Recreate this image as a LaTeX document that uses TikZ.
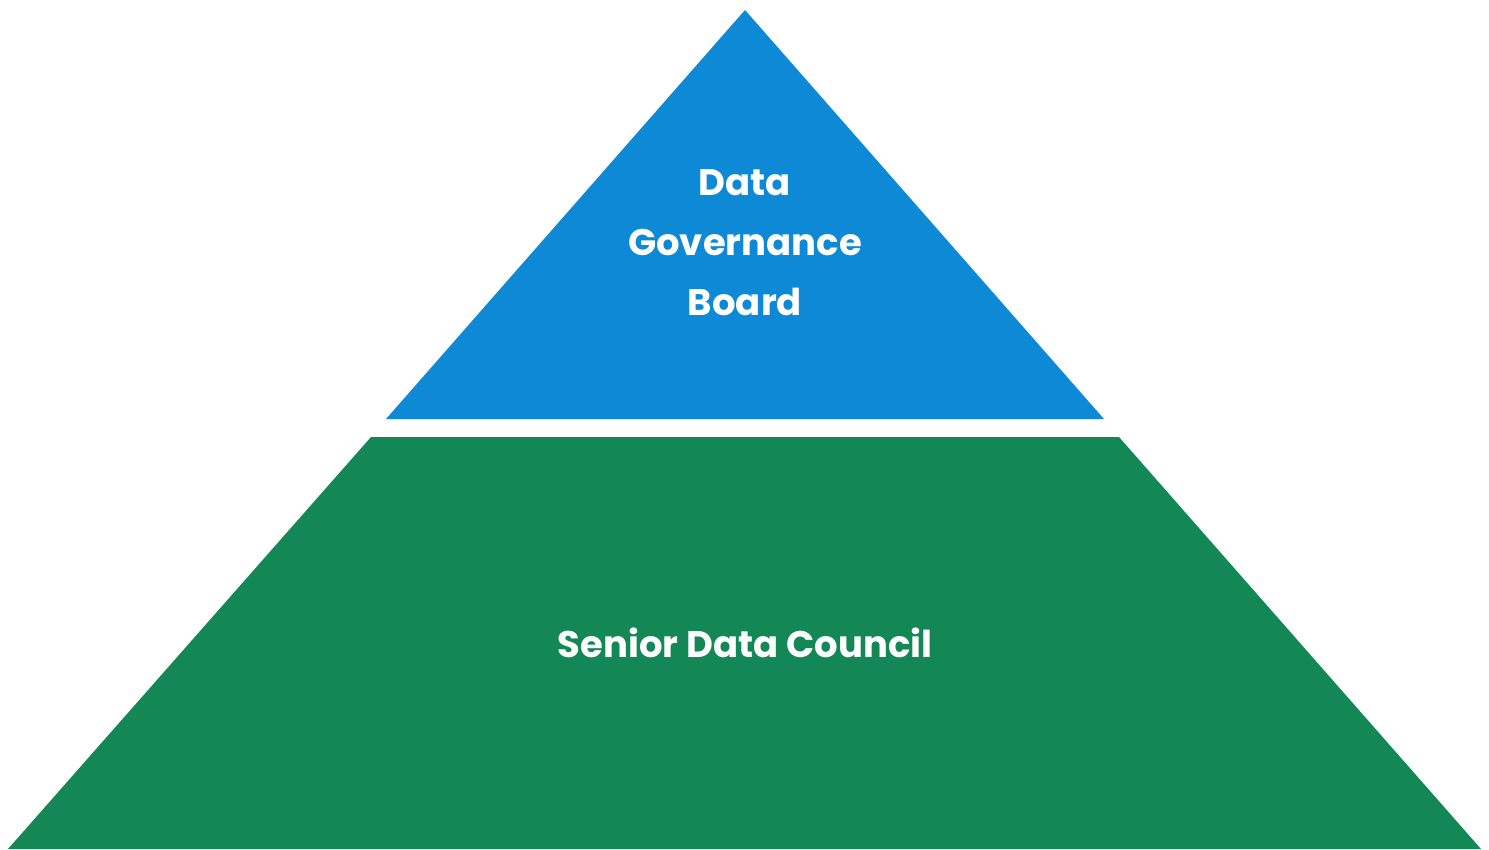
\documentclass[tikz,border=0pt]{standalone}
\usepackage{fontspec}
\setmainfont{Poppins}
\definecolor{topblue}{HTML}{0D89D6}
\definecolor{basegreen}{HTML}{148757}
\begin{document}
\begin{tikzpicture}[x=1pt,y=-1pt,
  lbl/.style={text=white,font=\fontsize{37}{60}\selectfont\bfseries,align=center,inner sep=0pt}]
\useasboundingbox (0,0) rectangle (1489,849);
\fill[topblue] (745,10) coordinate (apex) -- (1104,419) -- (386,419) -- cycle;
\fill[basegreen] (371,437) -- (1119,437) -- (1481,849) -- (8,849) -- cycle;
\node[lbl] (top) at (745,243) {Data\\Governance\\Board};
\node[lbl] (bottom) at (745,643) {Senior Data Council};
\end{tikzpicture}
\end{document}
